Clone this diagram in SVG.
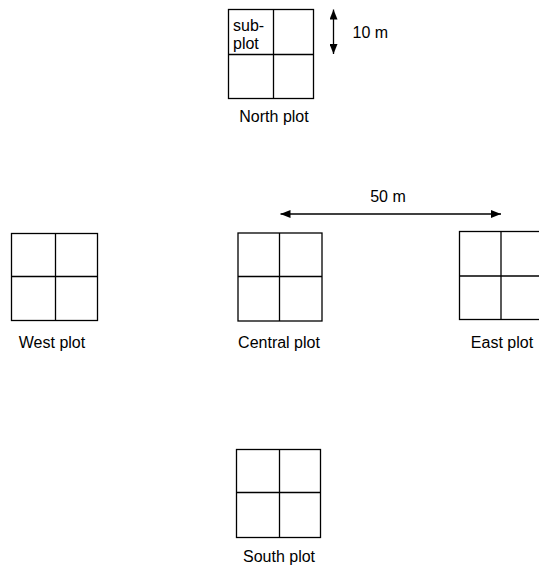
<svg xmlns="http://www.w3.org/2000/svg" width="539" height="574" viewBox="0 0 539 574">
  <defs>
    <style>
      .plot { fill: none; stroke: #000; stroke-width: 1.3; }
      .lbl { font-family: "Liberation Sans", Arial, sans-serif; font-size: 16px; fill: #000; }
      .mid { text-anchor: middle; }
      .conn { stroke: #000; stroke-width: 1.3; fill: none; }
    </style>
    <marker id="ah" viewBox="0 0 10 8" refX="10" refY="4" markerWidth="10" markerHeight="8" markerUnits="userSpaceOnUse" orient="auto-start-reverse">
      <path d="M0,0 L10,4 L0,8 z" fill="#000"/>
    </marker>
  </defs>
  <rect width="539" height="574" fill="#fff"/>

  <g id="north">
    <rect class="plot" x="228.5" y="9.5" width="85" height="89"/>
    <line class="plot" x1="273.5" y1="9.5" x2="273.5" y2="98.5"/>
    <line class="plot" x1="228.5" y1="54.5" x2="313.5" y2="54.5"/>
    <text class="lbl" x="233" y="31">sub-</text>
    <text class="lbl" x="233" y="48.5">plot</text>
    <text class="lbl mid" x="274" y="122">North plot</text>
  </g>

  <g id="west">
    <rect class="plot" x="11.5" y="233.5" width="86" height="87"/>
    <line class="plot" x1="55.5" y1="233.5" x2="55.5" y2="320.5"/>
    <line class="plot" x1="11.5" y1="276.5" x2="97.5" y2="276.5"/>
    <text class="lbl mid" x="52" y="347.5">West plot</text>
  </g>

  <g id="central">
    <rect class="plot" x="238" y="233" width="84" height="88"/>
    <line class="plot" x1="279.5" y1="233" x2="279.5" y2="321"/>
    <line class="plot" x1="238" y1="276.5" x2="322" y2="276.5"/>
    <text class="lbl mid" x="279" y="347.5">Central plot</text>
  </g>

  <g id="east">
    <rect class="plot" x="459.5" y="231.5" width="84" height="88"/>
    <line class="plot" x1="501" y1="231.5" x2="501" y2="319.5"/>
    <line class="plot" x1="459.5" y1="276" x2="543" y2="276"/>
    <text class="lbl mid" x="502" y="348">East plot</text>
  </g>

  <g id="south">
    <rect class="plot" x="236.5" y="449.5" width="84" height="88"/>
    <line class="plot" x1="279.5" y1="449.5" x2="279.5" y2="537.5"/>
    <line class="plot" x1="236.5" y1="492.5" x2="320.5" y2="492.5"/>
    <text class="lbl mid" x="279" y="562">South plot</text>
  </g>

  <g id="connectors">
    <line class="conn" x1="333.5" y1="9.5" x2="333.5" y2="54" marker-start="url(#ah)" marker-end="url(#ah)"/>
    <text class="lbl" x="352.5" y="37.5">10 m</text>
    <line class="conn" x1="280.5" y1="214" x2="501" y2="214" marker-start="url(#ah)" marker-end="url(#ah)"/>
    <text class="lbl mid" x="388" y="202">50 m</text>
  </g>
</svg>
